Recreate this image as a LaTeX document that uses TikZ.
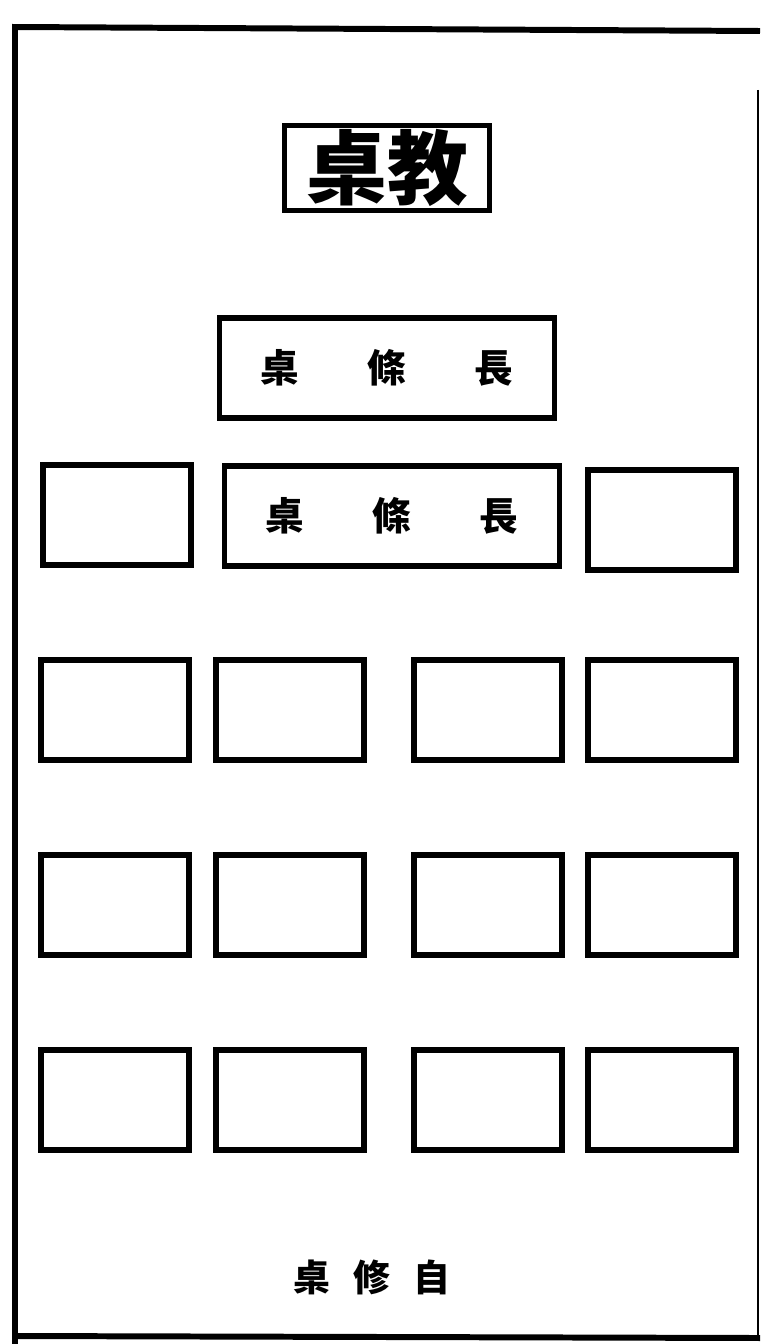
\documentclass[tikz,border=0pt]{standalone}
\usepackage{fontspec}
\newfontfamily\cjk{Noto Sans CJK TC}
\tikzset{
    desk/.style={draw, line width=3.2pt, inner sep=0pt, minimum width=29.6mm, minimum height=20mm},
    longdesk/.style={desk, minimum width=67mm, font=\cjk\bfseries\fontsize{22}{24}\selectfont},
    teacher/.style={draw, line width=2.4pt, inner sep=0pt, minimum width=41mm, minimum height=17mm, font=\cjk\bfseries\fontsize{46}{48}\selectfont},
    frame/.style={line width=3.4pt}
}
\begin{document}
\begin{tikzpicture}[x=0.2mm, y=-0.2mm]
    \useasboundingbox (0,0) rectangle (760,1344);
    % Aula
    \draw[frame] (760,31) -- (15,27) -- (15,1344);
    \draw[frame] (15,1336) -- (760,1338);
    \draw[line width=1.2pt] (758,90) -- (758,1338);

    % Cattedra
    \node[teacher] (jiaozhuo) at (387,168) {桌教};

    % Tavoli lunghi
    \node[longdesk] (long1) at (387,368) {桌\hspace{39pt}條\hspace{39pt}長};
    \node[longdesk] (long2) at (392,516) {桌\hspace{39pt}條\hspace{39pt}長};
    \node[desk] (side1) at (117,515) {};
    \node[desk] (side2) at (662,520) {};

    % Banchi
    \foreach \r/\y in {3/710, 4/905, 5/1100} {
        \foreach \c/\x in {1/115, 2/290, 3/488, 4/662} {
            \node[desk] (d\r\c) at (\x,\y) {};
        }
    }

    \node[font=\cjk\bfseries\fontsize{21}{23}\selectfont] (zixiu) at (372,1277) {桌\hspace{13pt}修\hspace{13pt}自};
\end{tikzpicture}
\end{document}
